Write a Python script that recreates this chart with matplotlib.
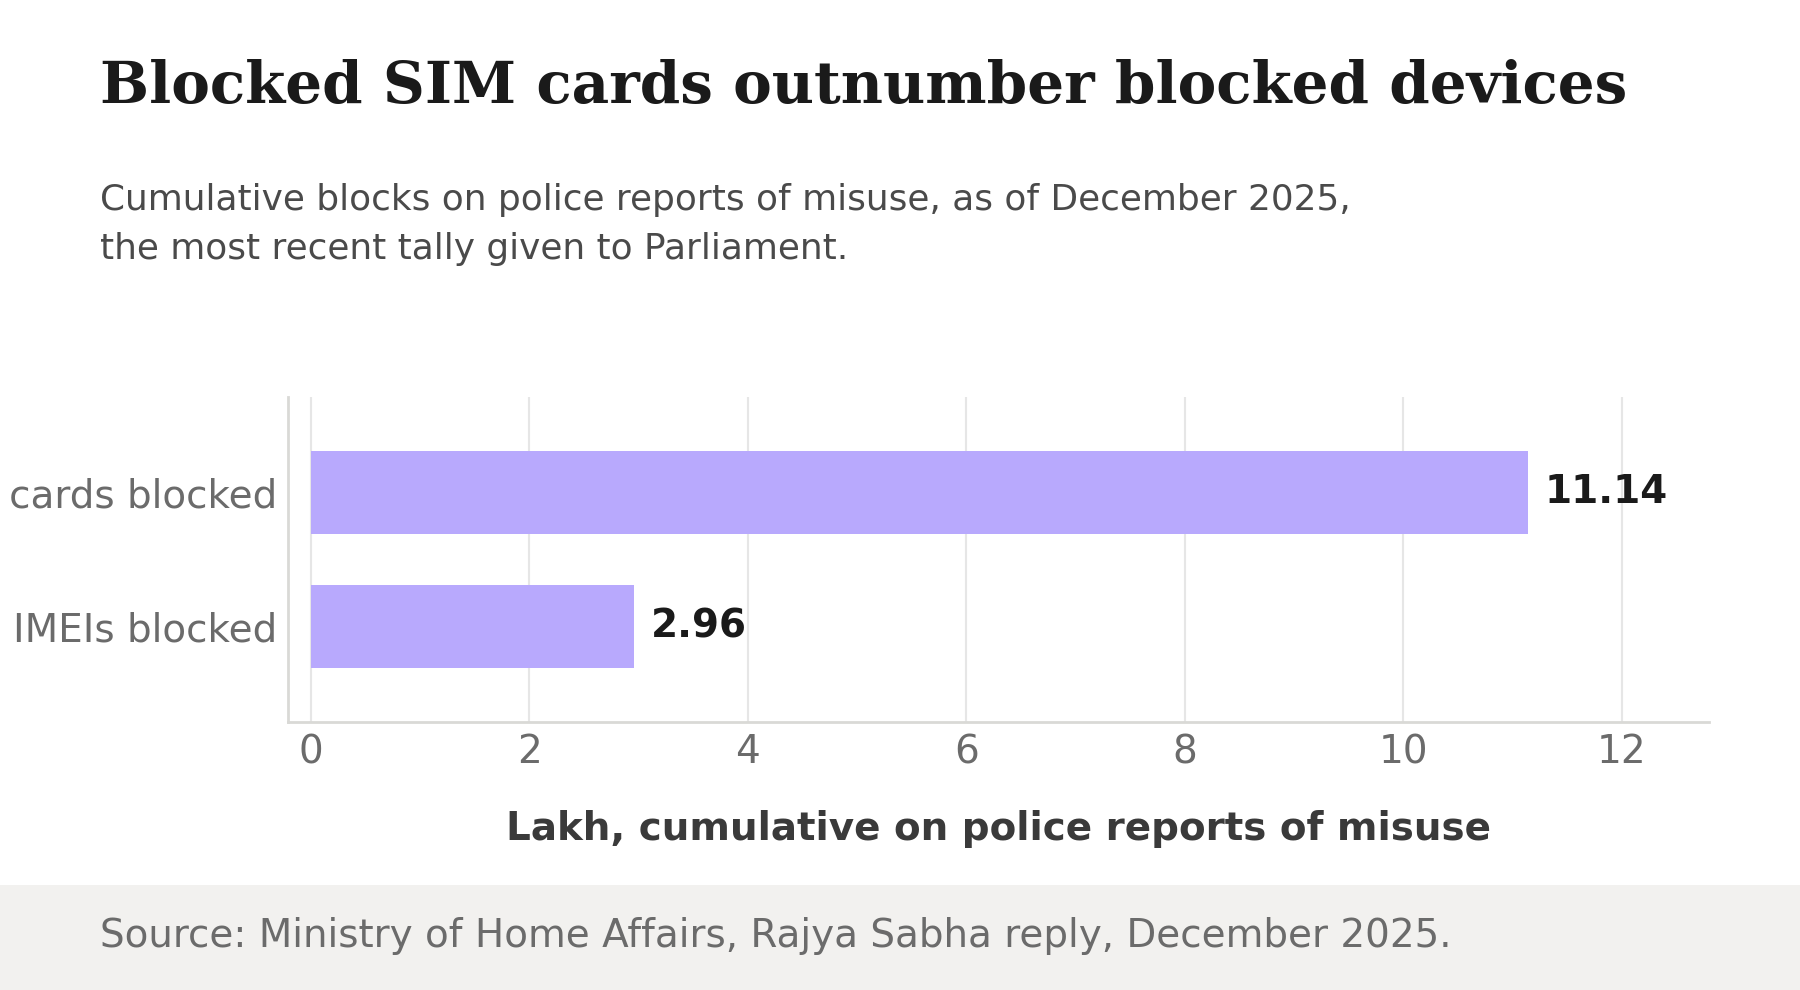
import matplotlib.pyplot as plt
from matplotlib.patches import Rectangle

plt.rcParams['font.family'] = ['DejaVu Sans']

# 資料
categories = ['SIM cards blocked', 'IMEIs blocked']
values = [11.14, 2.96]
xticks = [0, 2, 4, 6, 8, 10, 12]

bar_color = '#b8a9fd'
grid_color = '#e6e6e6'
spine_color = '#d9d9d6'
tick_color = '#6b6b6b'

W, H = 1800, 990
fig = plt.figure(figsize=(W / 100, H / 100), dpi=100)
fig.patch.set_facecolor('white')

# 底部來源欄
fig.patches.append(Rectangle((0, 0), 1, (H - 885) / H, transform=fig.transFigure,
                             facecolor='#f2f1ef', edgecolor='none', zorder=0))

ax = fig.add_axes([288 / W, (H - 722) / H, (1709 - 288) / W, (722 - 397) / H])
y = list(range(len(categories)))
ax.barh(y, values, height=0.615, color=bar_color, zorder=2)
ax.set_ylim(1.71, -0.71)
ax.set_xlim(-0.21, 12.8)
ax.set_yticks(y)
ax.set_yticklabels(categories)
ax.set_xticks(xticks)
ax.tick_params(axis='both', length=0, labelsize=28, labelcolor=tick_color)
ax.tick_params(axis='y', pad=8)
ax.tick_params(axis='x', pad=8)
ax.grid(True, axis='x', color=grid_color, linewidth=1.5, zorder=0)
ax.set_axisbelow(True)
for s in ['top', 'right']:
    ax.spines[s].set_visible(False)
for s in ['left', 'bottom']:
    ax.spines[s].set_color(spine_color)
    ax.spines[s].set_linewidth(2)

for yi, v in zip(y, values):
    ax.annotate(f'{v:.2f}', (v, yi), xytext=(12, 0), textcoords='offset points',
                va='center', ha='left', fontsize=28, fontweight='bold', color='#1a1a1a')

ax.set_xlabel('Lakh, cumulative on police reports of misuse', fontsize=28,
              fontweight='bold', color='#3a3a3a', labelpad=28)

fig.text(100 / W, 1 - 103 / H, 'Blocked SIM cards outnumber blocked devices',
         family='DejaVu Serif', fontweight='bold', fontsize=41.8, color='#1a1a1a',
         va='baseline', ha='left')
fig.text(100 / W, 1 - 259 / H,
         'Cumulative blocks on police reports of misuse, as of December 2025,\n'
         'the most recent tally given to Parliament.',
         fontsize=25.8, color='#4a4a4a', va='baseline', ha='left', linespacing=1.55)
fig.text(100 / W, 1 - 936 / H, 'Source: Ministry of Home Affairs, Rajya Sabha reply, December 2025.',
         fontsize=28, color=tick_color, va='center', ha='left')

fig.savefig('out.png', dpi=100)
